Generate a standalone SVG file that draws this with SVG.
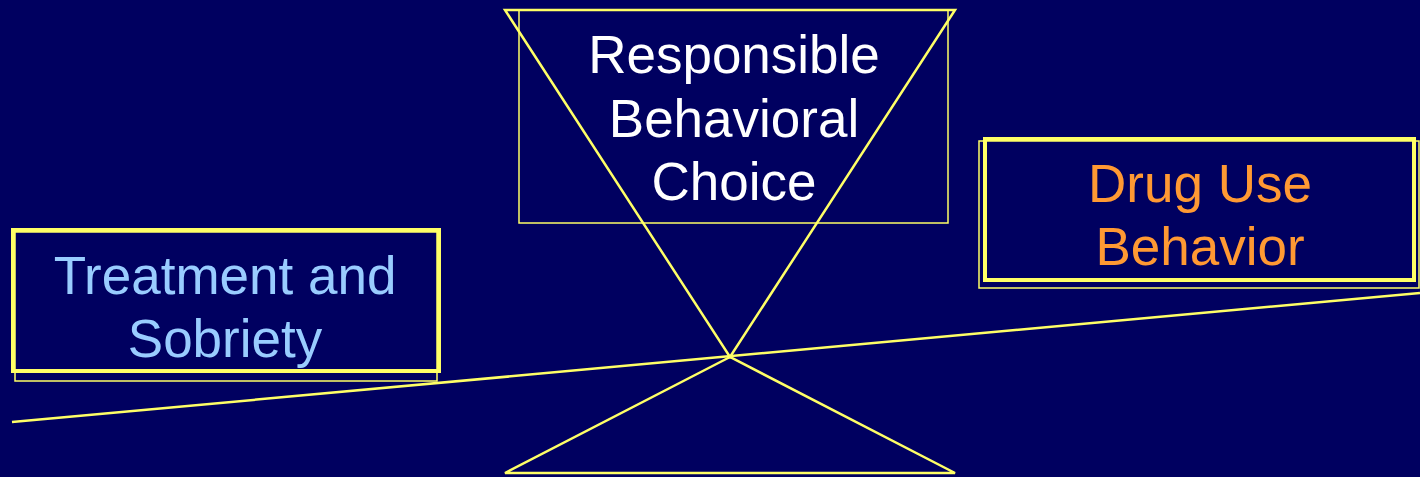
<svg xmlns="http://www.w3.org/2000/svg" width="1420" height="477" viewBox="0 0 1420 477">
<style>
.thin{fill:none;stroke:#FFFF66;stroke-width:1.5}
.line{fill:none;stroke:#FFFF66;stroke-width:2.5}
.thick{fill:none;stroke:#FFFF66;stroke-width:4}
text{font-family:"Liberation Sans",Arial,sans-serif;font-size:53px;text-anchor:middle}
</style>
<rect width="1420" height="477" fill="#000060"/>
<g id="connectors">
<polygon class="line" points="505,10 955,10 730,357"/>
<polygon class="line" points="730,357 505,473 955,473"/>
<line class="line" x1="12" y1="422" x2="1420" y2="293"/>
</g>
<g id="choice">
<rect class="thin" x="519" y="10" width="429" height="213"/>
<text fill="#FFFFFF"><tspan x="734" y="73">Responsible</tspan><tspan x="734" y="137">Behavioral</tspan><tspan x="734" y="200">Choice</tspan></text>
</g>
<g id="treatment">
<rect class="thin" x="15" y="232" width="422" height="149"/>
<rect class="thick" x="13" y="230" width="426" height="141"/>
<text fill="#99CCFF"><tspan x="225" y="294">Treatment and</tspan><tspan x="225" y="357">Sobriety</tspan></text>
</g>
<g id="druguse">
<rect class="thin" x="979" y="141" width="440" height="147"/>
<rect class="thick" x="985" y="139" width="429" height="141"/>
<text fill="#FF9933"><tspan x="1200" y="202">Drug Use</tspan><tspan x="1200" y="265">Behavior</tspan></text>
</g>
</svg>
